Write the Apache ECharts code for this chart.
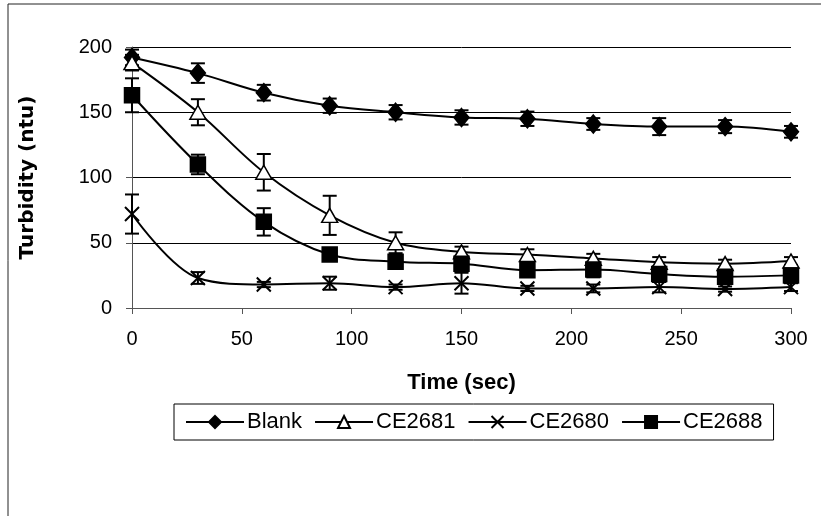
<!DOCTYPE html>
<html>
<head>
<meta charset="utf-8">
<script src="https://cdn.jsdelivr.net/npm/echarts@6/dist/echarts.min.js"></script>
<style>
html,body{margin:0;padding:0;background:#fff;}
#chart{width:821px;height:516px;}
</style>
</head>
<body>
<div id="chart"></div>
<script>
const times = [0, 30, 60, 90, 120, 150, 180, 210, 240, 270, 300];
const seriesNames = ['Blank', 'CE2681', 'CE2680', 'CE2688'];
const blank = [192, 180, 165, 155, 150, 146, 145, 141, 139, 139, 135];
const blankErr = [6, 7.5, 6, 5.5, 5.5, 5.5, 5.5, 4.5, 6.5, 5, 4.5];
const ce2681 = [188, 150, 104, 71, 50, 43, 41, 38, 35, 34, 36];
const ce2681Err = [6, 10, 14, 15, 8, 4, 4, 3.5, 4, 3, 3];
const ce2680 = [72, 23, 18, 19, 16, 19, 15, 15, 16, 14.5, 16];
const ce2680Err = [15, 4.5, 2, 5, 2, 8, 2, 3, 4, 2, 3];
const ce2688 = [163, 110, 66, 41, 35.5, 34, 29, 29.5, 26, 24, 25];
const ce2688Err = [13, 7.5, 10.5, 3, 3, 6, 4, 6, 6, 5, 5];
const xTicks = [0, 50, 100, 150, 200, 250, 300];
const yTicks = [0, 50, 100, 150, 200];

const values = [blank, ce2681, ce2680, ce2688];
const errs = [blankErr, ce2681Err, ce2680Err, ce2688Err];
const symbols = ['diamond', 'triangle', 'path://M0,0L10,10M10,0L0,10', 'rect'];
const symbolSizes = [[15, 18], [16, 14], [14, 14], [15, 15]];
const fills = ['#000', '#fff', '#000', '#000'];

const chart = echarts.init(document.getElementById('chart'));
const series = [];
values.forEach((vals, i) => {
  series.push({
    type: 'custom',
    silent: true,
    z: 3,
    data: times.map((t, k) => [t, vals[k] - errs[i][k], vals[k] + errs[i][k]]),
    encode: {x: 0, y: [1, 2]},
    renderItem: function (params, api) {
      const x = api.value(0);
      const lo = api.coord([x, api.value(1)]);
      const hi = api.coord([x, api.value(2)]);
      const w = 7;
      const st = {stroke: '#000', lineWidth: 2};
      return {
        type: 'group',
        children: [
          {type: 'line', shape: {x1: lo[0], y1: lo[1], x2: hi[0], y2: hi[1]}, style: st},
          {type: 'line', shape: {x1: lo[0] - w, y1: lo[1], x2: lo[0] + w, y2: lo[1]}, style: st},
          {type: 'line', shape: {x1: hi[0] - w, y1: hi[1], x2: hi[0] + w, y2: hi[1]}, style: st}
        ]
      };
    }
  });
});
values.forEach((vals, i) => {
  series.push({
    name: seriesNames[i],
    type: 'line',
    smooth: 0.35,
    z: 4,
    data: times.map((t, k) => [t, vals[k]]),
    symbol: symbols[i],
    symbolSize: symbolSizes[i],
    showAllSymbol: true,
    lineStyle: {color: '#000', width: 2},
    itemStyle: {color: fills[i], borderColor: '#000', borderWidth: i === 2 ? 2 : 1.5},
    emphasis: {disabled: true}
  });
});

chart.setOption({
  animation: false,
  backgroundColor: '#fff',
  graphic: [{
    type: 'rect',
    shape: {x: 8, y: 4, width: 900, height: 700},
    style: {fill: 'none', stroke: '#222', lineWidth: 1}
  }],
  grid: {left: 132, right: 30, top: 47, bottom: 208},
  xAxis: {
    type: 'value', min: 0, max: 300, interval: 50,
    name: 'Time (sec)', nameLocation: 'middle', nameGap: 64,
    nameTextStyle: {fontFamily: 'Liberation Sans, Arial', fontWeight: 'bold', fontSize: 22, color: '#000'},
    axisLine: {show: true, lineStyle: {color: '#555', width: 1}},
    axisTick: {show: true, inside: false, length: 6, lineStyle: {color: '#555'}},
    axisLabel: {margin: 21, fontFamily: 'Liberation Sans, Arial', fontSize: 20, color: '#000',
      formatter: v => xTicks.includes(v) ? String(v) : ''},
    splitLine: {show: false}
  },
  yAxis: {
    type: 'value', min: 0, max: 200, interval: 50,
    name: 'Turbidity (ntu)', nameLocation: 'middle', nameGap: 94,
    nameTextStyle: {fontFamily: 'DejaVu Sans', fontWeight: 'bold', fontSize: 20, color: '#000'},
    axisLine: {show: true, lineStyle: {color: '#555', width: 1}},
    axisTick: {show: true, inside: false, length: 6, lineStyle: {color: '#555'}},
    axisLabel: {margin: 20, fontFamily: 'Liberation Sans, Arial', fontSize: 20, color: '#000',
      formatter: v => yTicks.includes(v) ? String(v) : ''},
    splitLine: {show: true, lineStyle: {color: '#000', width: 1}}
  },
  legend: {
    data: seriesNames,
    left: 174, top: 404,
    orient: 'horizontal',
    itemWidth: 58, itemHeight: 15, itemGap: 12,
    padding: [7, 11, 7, 11],
    borderColor: '#000', borderWidth: 1,
    textStyle: {fontFamily: 'Liberation Sans, Arial', fontSize: 22, color: '#000', padding: [0, 0, 0, -2]},
    selectedMode: false
  },
  series: series
});
</script>
</body>
</html>
